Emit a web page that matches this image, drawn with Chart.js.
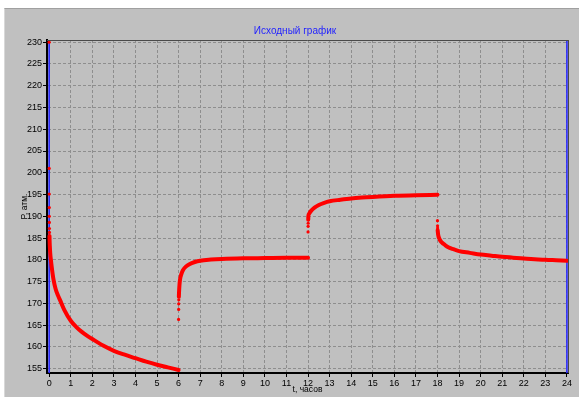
<!DOCTYPE html>
<html>
<head>
<meta charset="utf-8">
<script src="https://cdn.jsdelivr.net/npm/chart.js@4.4.1/dist/chart.umd.min.js"></script>
<style>
  html, body { margin: 0; padding: 0; background: #ffffff; width: 579px; height: 397px; overflow: hidden; }
  #panel { position: absolute; left: 4px; top: 8px; right: 0; bottom: 0; background: #c0c0c0; border-top: 1px solid #a0a0a0; border-left: 1px solid #d8d8d8; }
  #c { position: absolute; left: 0; top: 0; }
</style>
</head>
<body>
<div id="panel"></div>
<canvas id="c" width="579" height="397"></canvas>
<script>
// ---- Data (t in hours, P in atm) ----
const titleText = "Исходный график";
const xTitle = "t, часов";
const yTitle = "P, атм.";

const xTicks = [0,1,2,3,4,5,6,7,8,9,10,11,12,13,14,15,16,17,18,19,20,21,22,23,24];
const yTicks = [155,160,165,170,175,180,185,190,195,200,205,210,215,220,225,230];
const xMin = -0.1, xMax = 24.05;
const yMin = 154.0, yMax = 230.5;
const markerTimes = [0, 24];

// Segment 1 (0–6 h)
const jump1T = [0, 0.002, 0.004, 0.006, 0.008, 0.010, 0.012, 0.014];
const jump1P = [230, 201, 195.1, 192, 190, 188.6, 187.2, 186.3];
const curve1T = [0.016, 0.02, 0.03, 0.05, 0.08, 0.12, 0.2, 0.3, 0.4, 0.5, 0.7, 1.0, 1.25, 1.5, 1.75, 2.0, 2.5, 3.0, 3.5, 4.0, 4.5, 5.0, 5.5, 6.0];
const curve1P = [185.5, 184.5, 183.2, 181.5, 180.0, 178.3, 175.5, 173.3, 171.9, 170.8, 168.5, 166.0, 164.6, 163.5, 162.6, 161.8, 160.3, 159.1, 158.2, 157.4, 156.6, 155.9, 155.3, 154.7];

// Segment 2 (6–12 h)
const jump2T = [6.0, 6.003, 6.006, 6.009];
const jump2P = [166.3, 168.6, 169.9, 170.8];
const curve2T = [6.012, 6.02, 6.04, 6.07, 6.12, 6.2, 6.35, 6.5, 6.75, 7, 7.5, 8, 9, 10, 11, 12];
const curve2P = [171.5, 172.5, 174.2, 175.6, 176.6, 177.6, 178.5, 179.0, 179.5, 179.8, 180.05, 180.2, 180.35, 180.4, 180.45, 180.45];

// Segment 3 (12–18 h)
const jump3T = [12.0, 12.003, 12.006];
const jump3P = [186.4, 187.7, 188.4];
const curve3T = [12.009, 12.015, 12.05, 12.15, 12.3, 12.5, 12.75, 13, 13.5, 14, 14.5, 15, 16, 17, 18];
const curve3P = [189.2, 190.0, 190.6, 191.3, 192.0, 192.6, 193.1, 193.45, 193.8, 194.1, 194.3, 194.45, 194.7, 194.85, 194.95];

// Segment 4 (18–24 h)
const jump4T = [18.0, 18.003, 18.006];
const jump4P = [189.0, 187.8, 187.3];
const curve4T = [18.009, 18.03, 18.1, 18.2, 18.35, 18.5, 18.7, 19, 19.5, 20, 20.5, 21, 21.5, 22, 22.5, 23, 23.5, 24];
const curve4P = [186.8, 185.8, 184.7, 184.0, 183.4, 182.9, 182.5, 182.0, 181.6, 181.2, 180.95, 180.7, 180.5, 180.3, 180.15, 180.0, 179.9, 179.8];

// ---- Build datasets ----
const RED = '#ff0000';
const BLUE = '#2a2aff';
const pts = (T, P) => T.map((t, i) => ({ x: t, y: P[i] }));

const curveDS = (T, P) => ({
  data: pts(T, P), showLine: true, borderColor: RED, backgroundColor: RED,
  borderWidth: 4, pointRadius: 0, cubicInterpolationMode: 'monotone',
  borderCapStyle: 'round', borderJoinStyle: 'round', order: 1
});
const jumpDS = (T, P) => ({
  data: pts(T, P), showLine: false, borderColor: RED, backgroundColor: RED,
  pointRadius: 1.6, pointBorderWidth: 0, order: 0
});
const markerDS = markerTimes.map(t => ({
  data: [{ x: t, y: yMin }, { x: t, y: yMax }], showLine: true,
  borderColor: BLUE, borderWidth: 1.6, pointRadius: 0, order: 10
}));

const datasets = [
  ...markerDS,
  curveDS(curve1T, curve1P), jumpDS(jump1T, jump1P),
  curveDS(curve2T, curve2P), jumpDS(jump2T, jump2P),
  curveDS(curve3T, curve3P), jumpDS(jump3T, jump3P),
  curveDS(curve4T, curve4P), jumpDS(jump4T, jump4P)
];

const FONT = 'Liberation Sans, Arial, sans-serif';

const framePlugin = {
  id: 'frame',
  afterDraw(chart) {
    const { ctx, chartArea: a } = chart;
    ctx.save();
    ctx.strokeStyle = '#4a4a4a';
    ctx.lineWidth = 1;
    ctx.beginPath();
    ctx.moveTo(a.left, a.top + 0.5); ctx.lineTo(a.right + 0.5, a.top + 0.5);
    ctx.moveTo(a.right + 0.5, a.top); ctx.lineTo(a.right + 0.5, a.bottom);
    ctx.stroke();
    ctx.fillStyle = '#1f1fff';
    ctx.font = '10px ' + FONT;
    ctx.textAlign = 'center';
    ctx.textBaseline = 'middle';
    ctx.fillText(titleText, 295, 31);
    ctx.fillStyle = '#000000';
    ctx.font = '8.5px ' + FONT;
    ctx.fillText(xTitle, (a.left + a.right) / 2, 390);
    ctx.translate(25, (a.top + a.bottom) / 2);
    ctx.rotate(-Math.PI / 2);
    ctx.fillText(yTitle, 0, 0);
    ctx.restore();
  }
};

new Chart(document.getElementById('c'), {
  type: 'scatter',
  data: { datasets },
  options: {
    responsive: false,
    animation: false,
    events: [],
    layout: { padding: { left: 0, right: 11, top: 40, bottom: 0 } },
    plugins: { legend: { display: false }, tooltip: { enabled: false }, title: { display: false } },
    scales: {
      x: {
        type: 'linear', min: xMin, max: xMax,
        afterBuildTicks: s => { s.ticks = xTicks.map(v => ({ value: v })); },
        afterFit: s => { s.height = 24; },
        ticks: { font: { size: 9, family: FONT }, color: '#000', padding: 1, maxRotation: 0, autoSkip: false },
        grid: { color: '#8e8e8e', lineWidth: 1, tickLength: 4, tickColor: '#000', tickBorderDash: [] },
        border: { display: true, color: '#000', width: 2, dash: [3, 2] }
      },
      y: {
        type: 'linear', min: yMin, max: yMax,
        afterBuildTicks: s => { s.ticks = yTicks.map(v => ({ value: v })); },
        afterFit: s => { s.width = 47; },
        ticks: { font: { size: 9, family: FONT }, color: '#000', padding: 1, autoSkip: false },
        grid: { color: '#8e8e8e', lineWidth: 1, tickLength: 4, tickColor: '#000', tickBorderDash: [] },
        border: { display: true, color: '#000', width: 2, dash: [3, 2] }
      }
    }
  },
  plugins: [framePlugin]
});
</script>
</body>
</html>
